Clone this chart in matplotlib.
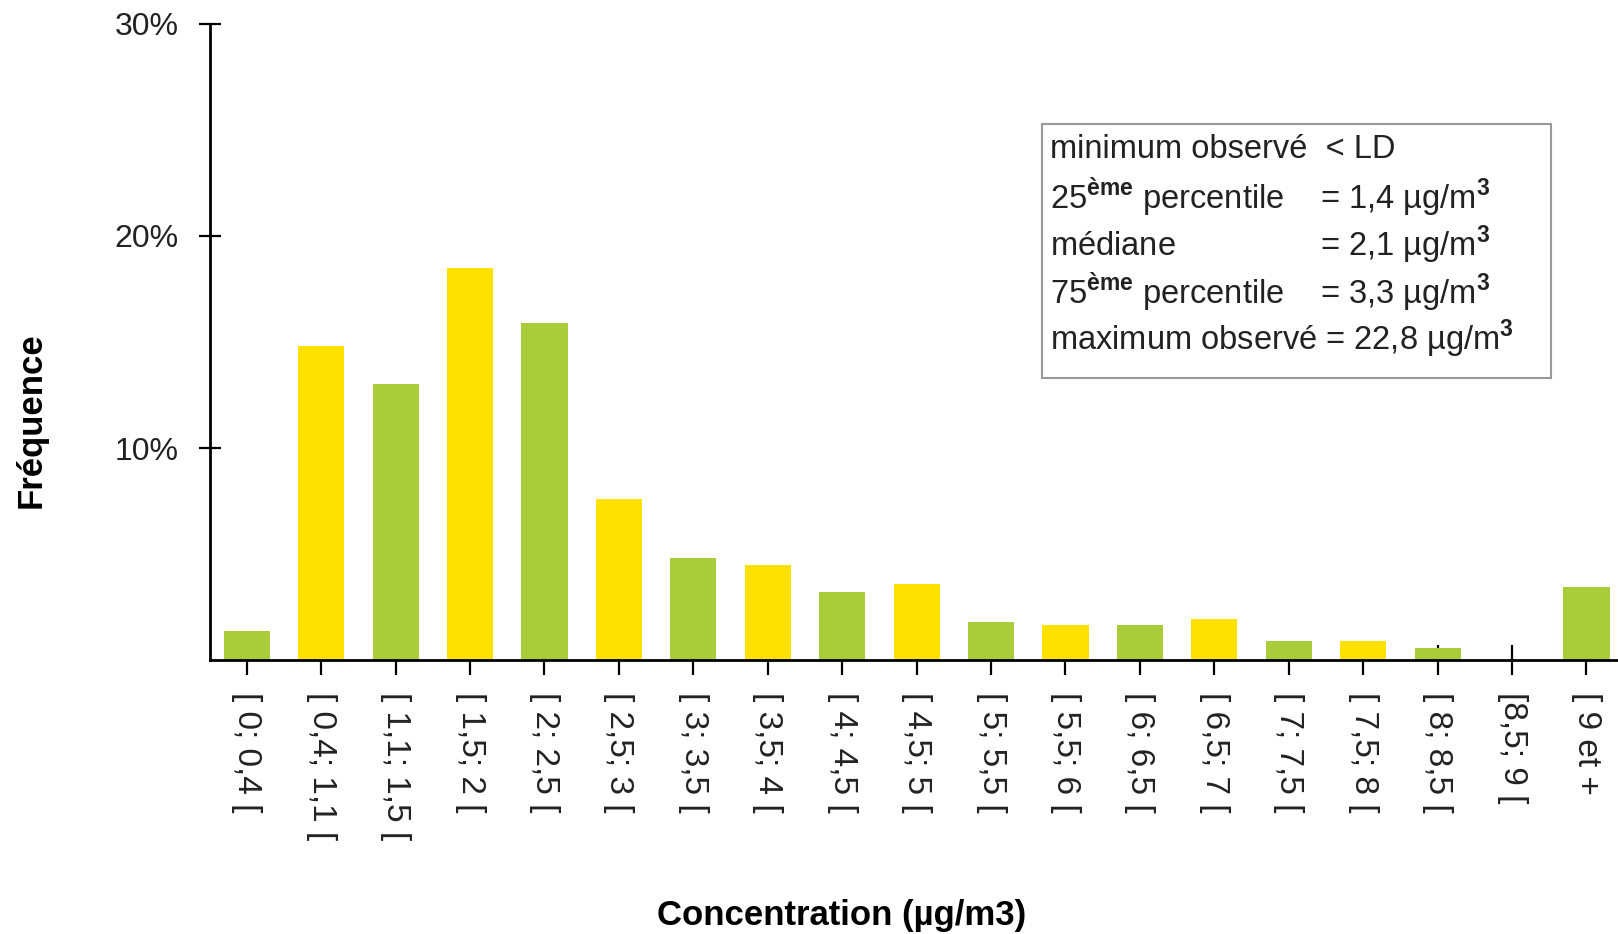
import matplotlib.pyplot as plt
from matplotlib.ticker import FuncFormatter

# classes de concentration (µg/m3) et fréquences (%)
classes = ['[ 0; 0,4 [', '[ 0,4; 1,1 [', '[ 1,1; 1,5 [', '[ 1,5; 2 [', '[ 2; 2,5 [',
           '[ 2,5; 3 [', '[ 3; 3,5 [', '[ 3,5; 4 [', '[ 4; 4,5 [', '[ 4,5; 5 [',
           '[ 5; 5,5 [', '[ 5,5; 6 [', '[ 6; 6,5 [', '[ 6,5; 7 [', '[ 7; 7,5 [',
           '[ 7,5; 8 [', '[ 8; 8,5 [', '[8,5; 9 [', '[ 9 et +']
frequences = [1.4, 14.8, 13.0, 18.5, 15.9, 7.6, 4.8, 4.5, 3.2, 3.6,
              1.8, 1.65, 1.65, 1.95, 0.9, 0.9, 0.6, 0.0, 3.45]

stats_lignes = ['minimum observé  < LD',
                '25$^{\\mathbf{ème}}$ percentile    = 1,4 µg/m$^{\\mathbf{3}}$',
                'médiane                = 2,1 µg/m$^{\\mathbf{3}}$',
                '75$^{\\mathbf{ème}}$ percentile    = 3,3 µg/m$^{\\mathbf{3}}$',
                'maximum observé = 22,8 µg/m$^{\\mathbf{3}}$']

VERT = '#a8cc3a'
JAUNE = '#ffe100'

plt.rcParams['font.family'] = ['Liberation Sans', 'DejaVu Sans']
plt.rcParams['mathtext.fontset'] = 'custom'
plt.rcParams['mathtext.rm'] = 'Liberation Sans'
plt.rcParams['mathtext.bf'] = 'Liberation Sans:bold'

fig = plt.figure(figsize=(16.18, 9.34), dpi=100)
ax = fig.add_axes([0.1295, 0.293, 0.874, 0.6816])

x = list(range(len(classes)))
couleurs = [VERT if i % 2 == 0 else JAUNE for i in x]
ax.bar(x, frequences, width=0.62, color=couleurs, edgecolor='none', zorder=2)

ax.set_xlim(-0.5, len(classes) - 0.5)
ax.set_ylim(0, 30)
ax.set_yticks([10, 20, 30])
ax.yaxis.set_major_formatter(FuncFormatter(lambda v, p: '%d%%' % v))
ax.set_xticks(x)
ax.set_xticklabels(classes, rotation=-90, fontsize=24, color='#222222')

ax.spines['top'].set_visible(False)
ax.spines['right'].set_visible(False)
ax.spines['left'].set_linewidth(2)
ax.spines['bottom'].set_linewidth(2)
ax.tick_params(axis='x', direction='inout', length=22, width=1.6, pad=12)
ax.tick_params(axis='y', direction='inout', length=16, width=1.6, pad=14,
               labelsize=23, labelcolor='#222222')

fig.text(0.019, 0.55, 'Fréquence', rotation=90, ha='center', va='center',
         fontsize=25, fontweight='bold')
fig.text(0.52, 0.02, 'Concentration (µg/m3)', ha='center', va='center',
         fontsize=25, fontweight='bold')

# cadre des statistiques
boite = plt.Rectangle((1042 / 1618, 1 - 378 / 934), 509 / 1618, 254 / 934,
                      transform=fig.transFigure, facecolor='white',
                      edgecolor='#999999', linewidth=1.5, zorder=3)
fig.add_artist(boite)
ys = [150, 197, 245, 292, 339]
for ligne, y in zip(stats_lignes, ys):
    fig.text(1050 / 1618, 1 - y / 934, ligne, ha='left', va='center',
             fontsize=23.5, color='#222222', zorder=4)

fig.savefig('out.png', dpi=100)
